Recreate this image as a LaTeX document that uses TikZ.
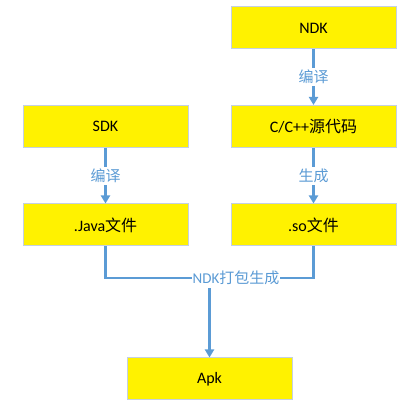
\documentclass[tikz,border=0pt]{standalone}
\usepackage{fontspec}
\setmainfont{Carlito}
\newfontfamily\zhfont{Noto Sans CJK SC}
\newcommand{\zh}[1]{{\zhfont #1}}
\usetikzlibrary{arrows.meta}
\definecolor{flowblue}{RGB}{91,155,213}
\definecolor{boxline}{RGB}{196,208,226}
\tikzset{
	box/.style={draw=boxline,line width=1pt,fill=yellow,minimum width=165pt,minimum height=42pt,inner sep=0pt,font=\fontsize{16}{18}\selectfont},
	flow/.style={flowblue,line width=2.2pt,arrows=-{Triangle[length=8pt,width=9pt]}},
	link/.style={flowblue,line width=2.2pt},
	lbl/.style={fill=white,text=flowblue,inner sep=2pt,font=\fontsize{15}{17}\selectfont}
}
\begin{document}
\begin{tikzpicture}[x=1pt,y=1pt]
	\useasboundingbox (0,0) rectangle (417,406);
	% Boxes
	\node [box] (ndk) at (313.5,378) {NDK};
	\node [box] (sdk) at (105.5,279.5) {SDK};
	\node [box] (cpp) at (313.5,279.5) {C/C++\zh{源代码}};
	\node [box] (java) at (105.5,181) {.Java\zh{文件}};
	\node [box] (so) at (313.5,181) {.so\zh{文件}};
	\node [box] (apk) at (209.5,27) {Apk};
	% Arrows
	\draw [flow] (ndk) -- node [lbl] {\zh{编译}} (cpp);
	\draw [flow] (sdk) -- node [lbl] {\zh{编译}} (java);
	\draw [flow] (cpp) -- node [lbl] {\zh{生成}} (so);
	% Packing
	\coordinate (jbend) at (105.5,128);
	\coordinate (sbend) at (313.5,128);
	\draw [link] (java.south) -- (jbend) -- (sbend) -- (so.south);
	\node [lbl,inner sep=1pt] (pack) at (236,128) {NDK\zh{打包生成}};
	\draw [flow] (apk.north |- pack.south) ++(0,-2) -- (apk.north);
\end{tikzpicture}
\end{document}
